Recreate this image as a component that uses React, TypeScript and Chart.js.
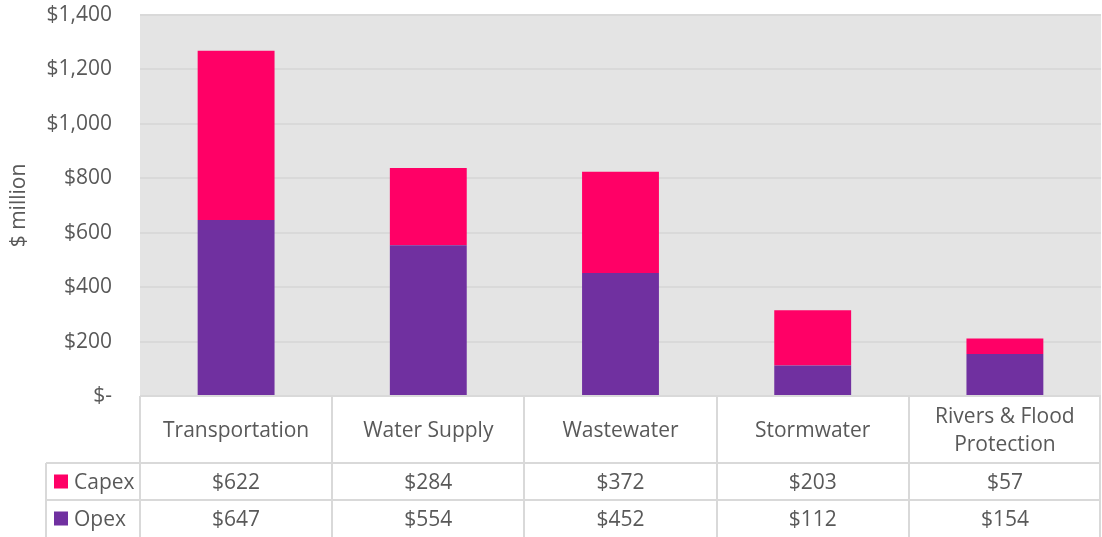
import React, { useEffect, useRef } from "react";
import { Chart, registerables } from "chart.js";

Chart.register(...registerables);

const categories: string[][] = [
  ["Transportation"],
  ["Water Supply"],
  ["Wastewater"],
  ["Stormwater"],
  ["Rivers & Flood", "Protection"],
];
const capex: number[] = [622, 284, 372, 203, 57];
const opex: number[] = [647, 554, 452, 112, 154];
const seriesNames = ["Capex", "Opex"];
const capexColor = "#FF0066";
const opexColor = "#7030A0";
const textColor = "#595959";
const FONT = "'Open Sans', 'Noto Sans', sans-serif";
const FS = 21;

const fmt = (v: number) => (v === 0 ? "$-" : "$" + v.toLocaleString("en-US"));

const tablePlugin = {
  id: "dataTable",
  beforeDraw(chart: any) {
    const { ctx, chartArea } = chart;
    ctx.save();
    ctx.fillStyle = "#E4E4E4";
    ctx.fillRect(chartArea.left, chartArea.top, chartArea.right - chartArea.left, chartArea.bottom - chartArea.top);
    ctx.restore();
  },
  afterDraw(chart: any) {
    const { ctx, chartArea } = chart;
    const xs = chart.scales.x;
    const n = categories.length;
    const left = chartArea.left;
    const right = chartArea.right;
    const catW = (right - left) / n;
    const top = chartArea.bottom;
    const row1 = top + 67;
    const row2 = row1 + 37;
    const bottom = chart.height;
    const legendLeft = 46;
    ctx.save();
    ctx.strokeStyle = "#D9D9D9";
    ctx.lineWidth = 2;
    ctx.beginPath();
    for (let i = 0; i <= n; i++) {
      const x = Math.round(left + i * catW) - (i === n ? 1 : 0);
      ctx.moveTo(x, top);
      ctx.lineTo(x, bottom);
    }
    ctx.moveTo(legendLeft, row1);
    ctx.lineTo(legendLeft, bottom);
    ctx.moveTo(legendLeft, row1);
    ctx.lineTo(right, row1);
    ctx.moveTo(legendLeft, row2);
    ctx.lineTo(right, row2);
    ctx.stroke();

    ctx.fillStyle = textColor;
    ctx.font = `${FS}px ${FONT}`;
    ctx.textAlign = "center";
    ctx.textBaseline = "middle";
    const headMid = (top + row1) / 2 + 2;
    categories.forEach((lines, i) => {
      const cx = xs.getPixelForValue(i);
      const lh = 28;
      lines.forEach((t, j) => {
        ctx.fillText(t, cx, headMid + (j - (lines.length - 1) / 2) * lh);
      });
      ctx.fillText(fmt(capex[i]), cx, (row1 + row2) / 2 + 2);
      ctx.fillText(fmt(opex[i]), cx, (row2 + bottom) / 2 + 2);
    });
    const rows = [
      { name: seriesNames[0], color: capexColor, y: (row1 + row2) / 2 },
      { name: seriesNames[1], color: opexColor, y: (row2 + bottom) / 2 },
    ];
    ctx.textAlign = "left";
    rows.forEach((r) => {
      ctx.fillStyle = r.color;
      ctx.fillRect(54, r.y - 7, 14, 14);
      ctx.fillStyle = textColor;
      ctx.fillText(r.name, 74, r.y + 2);
    });
    ctx.restore();
  },
};

export default function App() {
  const ref = useRef<HTMLCanvasElement | null>(null);
  useEffect(() => {
    document.body.style.margin = "0";
    const chart = new Chart(ref.current!, {
      type: "bar",
      data: {
        labels: categories.map((c) => c.join(" ")),
        datasets: [
          { label: seriesNames[1], data: opex, backgroundColor: opexColor, barPercentage: 0.4, categoryPercentage: 1 },
          { label: seriesNames[0], data: capex, backgroundColor: capexColor, barPercentage: 0.4, categoryPercentage: 1 },
        ],
      },
      options: {
        animation: false,
        responsive: false,
        layout: { padding: { top: 15, right: 1, bottom: 141, left: 0 } },
        plugins: { legend: { display: false }, tooltip: { enabled: false } },
        scales: {
          x: { stacked: true, display: false },
          y: {
            stacked: true,
            min: 0,
            max: 1400,
            afterFit: (s: any) => {
              s.width = 140;
              s.paddingTop = 0;
              s.paddingBottom = 0;
            },
            border: { display: false },
            grid: { color: "#D9D9D9", lineWidth: 2, drawTicks: false },
            ticks: {
              stepSize: 200,
              padding: 28,
              color: textColor,
              font: { family: FONT, size: FS },
              callback: (v: any) => fmt(Number(v)),
            },
            title: {
              display: true,
              text: "$ million",
              color: textColor,
              font: { family: FONT, size: FS },
              padding: { top: 6, bottom: 0 },
            },
          },
        },
      },
      plugins: [tablePlugin],
    });
    return () => chart.destroy();
  }, []);
  return (
    <div style={{ width: 1102, height: 537 }}>
      <canvas ref={ref} width={1102} height={537} />
    </div>
  );
}
